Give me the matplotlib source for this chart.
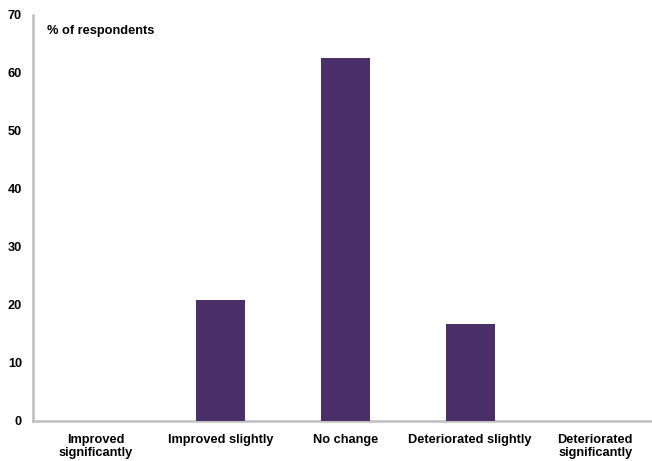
import matplotlib
matplotlib.use("Agg")
import matplotlib.pyplot as plt

categories = ["Improved\nsignificantly", "Improved slightly", "No change",
              "Deteriorated slightly", "Deteriorated\nsignificantly"]
values = [0.0, 20.8, 62.5, 16.7, 0.0]
yticks = [0, 10, 20, 30, 40, 50, 60, 70]

BAR_COLOR = "#4B2F69"
AXIS_COLOR = "#BFBFBF"

plt.rcParams["font.family"] = ["Liberation Sans", "DejaVu Sans"]

fig = plt.figure(figsize=(6.52, 4.61), dpi=100)
ax = fig.add_axes([0.0506, 0.0868, 0.9494, 0.8807])

x = list(range(len(categories)))
ax.bar(x, values, width=0.39, color=BAR_COLOR, zorder=3)

ax.set_xlim(-0.5, 4.455)
ax.set_ylim(0, 70)
ax.set_yticks(yticks)
ax.set_yticklabels([str(t) for t in yticks], fontsize=9.2, fontweight="bold")
ax.set_xticks(x)
ax.set_xticklabels(categories, fontsize=9.2, fontweight="bold", linespacing=1.1,
                   va="top")

ax.tick_params(axis="both", length=0)
ax.tick_params(axis="y", pad=8)
ax.tick_params(axis="x", pad=9.5)

for s in ["top", "right"]:
    ax.spines[s].set_visible(False)
for s in ["left", "bottom"]:
    ax.spines[s].set_color(AXIS_COLOR)
    ax.spines[s].set_linewidth(1.8)

ax.text(0.022, 0.975, "% of respondents", transform=ax.transAxes,
        fontsize=9.2, fontweight="bold", ha="left", va="top")

fig.savefig("out.png", dpi=100)
